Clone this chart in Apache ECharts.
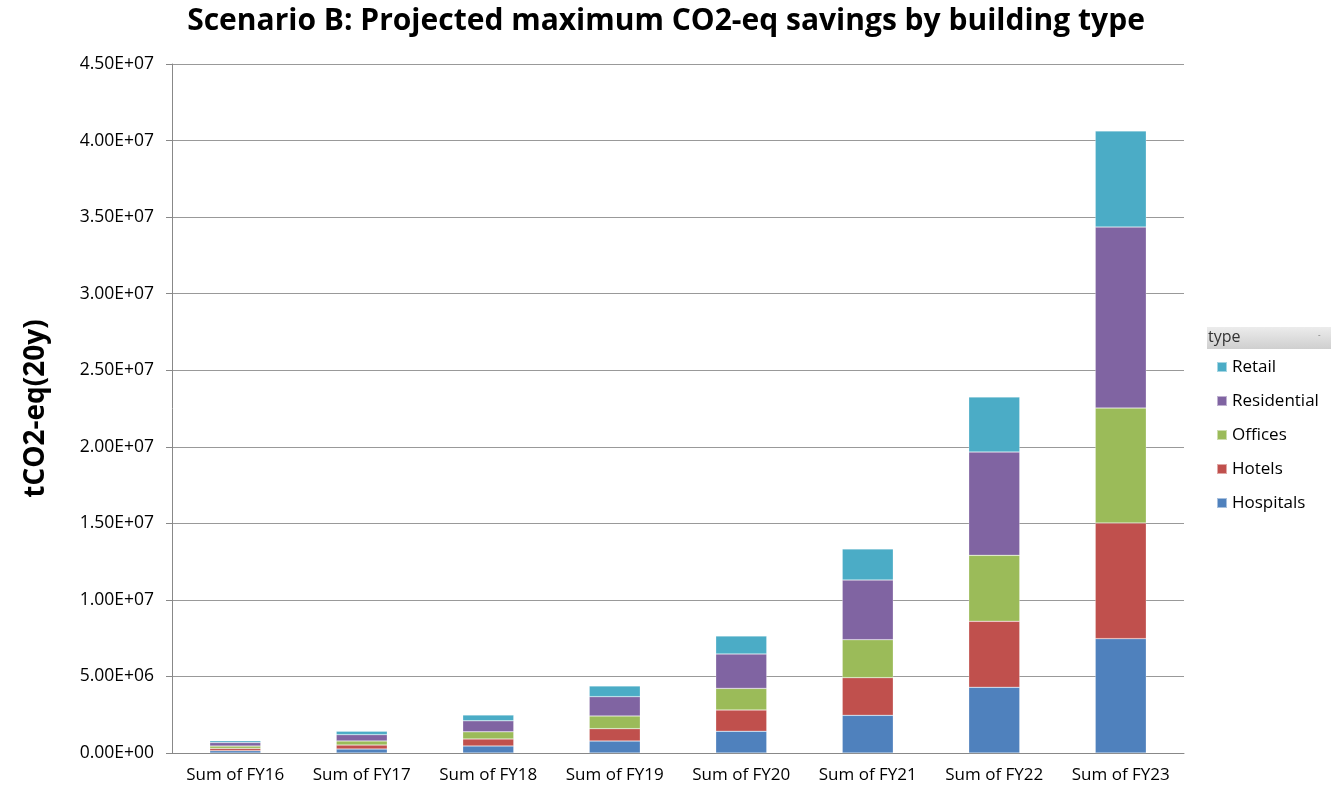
<!DOCTYPE html>
<html>
<head>
<meta charset="utf-8">
<script src="https://cdn.jsdelivr.net/npm/echarts@6/dist/echarts.min.js"></script>
<style>html,body{margin:0;padding:0;background:#fff}#c{width:1339px;height:789px}</style>
</head>
<body>
<div id="c"></div>
<script>
const categories = ['Sum of FY16','Sum of FY17','Sum of FY18','Sum of FY19','Sum of FY20','Sum of FY21','Sum of FY22','Sum of FY23'];
const hospitals   = [1.5e5, 2.6e5, 4.6e5, 7.8e5, 1.42e6, 2.46e6, 4.29e6, 7.47e6];
const hotels      = [1.5e5, 2.6e5, 4.6e5, 8.1e5, 1.39e6, 2.46e6, 4.31e6, 7.55e6];
const offices     = [1.5e5, 2.7e5, 4.6e5, 8.3e5, 1.41e6, 2.48e6, 4.31e6, 7.51e6];
const residential = [2.3e5, 4.1e5, 7.2e5, 1.26e6, 2.25e6, 3.90e6, 6.75e6, 1.182e7];
const retail      = [1.2e5, 2.2e5, 3.8e5, 7.0e5, 1.17e6, 2.03e6, 3.59e6, 6.28e6];
const seriesNames = ['Hospitals','Hotels','Offices','Residential','Retail'];
const seriesData = [hospitals, hotels, offices, residential, retail];
const colors = ['#4F81BD','#C0504D','#9BBB59','#8064A2','#4BACC6'];

function fmt(v){
  if (v === 0) return '0.00E+00';
  const e = Math.floor(Math.log10(Math.abs(v)) + 1e-9);
  const m = v / Math.pow(10, e);
  const es = (e < 0 ? '-' : '+') + String(Math.abs(e)).padStart(2,'0');
  return m.toFixed(2) + 'E' + es;
}

const chart = echarts.init(document.getElementById('c'), null, {renderer:'canvas'});
const font = '"Open Sans", "Noto Sans", sans-serif';
chart.setOption({
  animation:false,
  color: colors,
  title:{
    text:'Scenario B: Projected maximum CO2-eq savings by building type',
    left: 661, top: 1, textAlign:'center',
    textStyle:{fontFamily:font, fontWeight:'bold', fontSize:30, color:'#000'}
  },
  grid:{left:172, right:155, top:64, bottom:36, containLabel:false},
  legend:{
    orient:'vertical', left:1211, top:352,
    data:['Retail','Residential','Offices','Hotels','Hospitals'],
    itemWidth:10, itemHeight:10, itemGap:14,
    icon:'rect',
    textStyle:{fontFamily:font, fontSize:17, lineHeight:20, color:'#000'}
  },
  graphic:[
    {type:'rect', shape:{x:1207, y:327, width:124, height:22},
     style:{fill:new echarts.graphic.LinearGradient(0,0,0,1,[{offset:0,color:'#ececec'},{offset:1,color:'#cfcfcf'}])}},
    {type:'text', x:1208, y:329, style:{text:'type', fontFamily:font, fontSize:16, fill:'#333'}},
    {type:'text', x:1318, y:331, style:{text:'-', fontFamily:font, fontSize:8, fill:'#666'}}
  ],
  xAxis:{
    type:'category', data:categories,
    axisLine:{lineStyle:{color:'#888', width:1}},
    axisTick:{length:6, lineStyle:{color:'#888'}},
    axisLabel:{fontFamily:font, fontSize:17, color:'#000', margin:14, interval:0, hideOverlap:false}
  },
  yAxis:{
    type:'value', min:0, max:4.5e7, interval:5e6,
    name:'tCO2-eq(20y)', nameLocation:'middle', nameGap:122,
    nameTextStyle:{fontFamily:font, fontWeight:'bold', fontSize:28, color:'#000'},
    axisLine:{show:true, lineStyle:{color:'#888'}},
    axisTick:{show:true, length:6, lineStyle:{color:'#888'}},
    splitLine:{lineStyle:{color:'#999', width:1}},
    axisLabel:{fontFamily:font, fontSize:17.5, color:'#000', margin:18, formatter:fmt}
  },
  series: seriesNames.map((n,i)=>({
    name:n, type:'bar', stack:'total', data:seriesData[i], barWidth:51,
    itemStyle:{borderColor:'rgba(255,255,255,0.5)', borderWidth:0.5}
  }))
});
</script>
</body>
</html>
